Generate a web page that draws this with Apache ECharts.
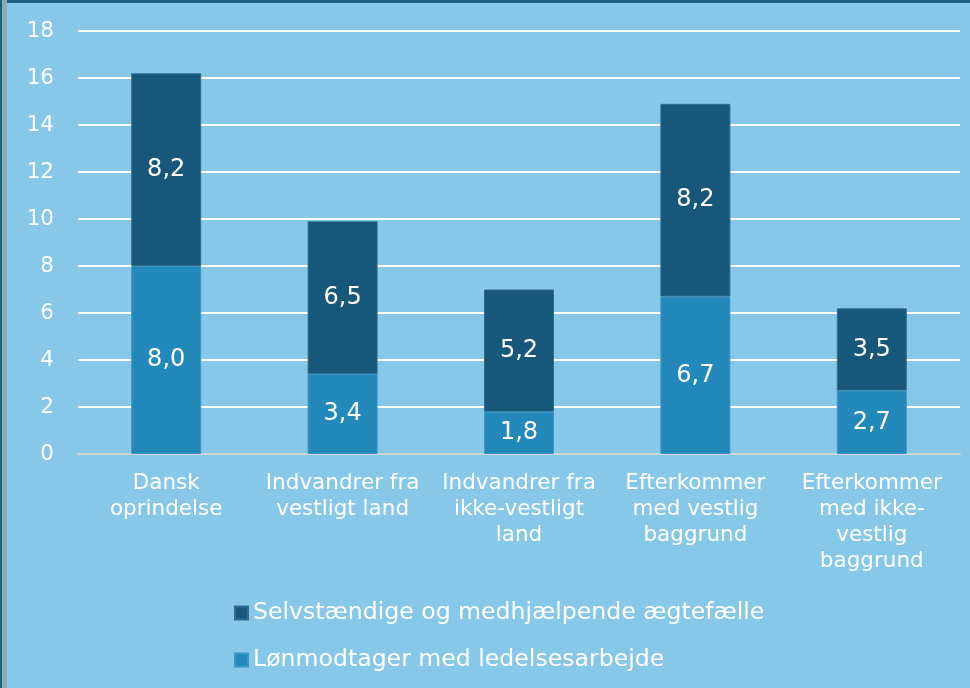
<!DOCTYPE html>
<html>
<head>
<meta charset="utf-8">
<script src="https://cdn.jsdelivr.net/npm/echarts@6/dist/echarts.min.js"></script>
<style>
  html, body { margin: 0; padding: 0; background: #87c8e8; }
  #main { width: 970px; height: 688px; }
</style>
</head>
<body>
<div id="main"></div>
<script>
var categories = [
  'Dansk\noprindelse',
  'Indvandrer fra\nvestligt land',
  'Indvandrer fra\nikke-vestligt\nland',
  'Efterkommer\nmed vestlig\nbaggrund',
  'Efterkommer\nmed ikke-\nvestlig\nbaggrund'
]
var loenmodtager = [8.0, 3.4, 1.8, 6.7, 2.7]
var selvstaendige = [8.2, 6.5, 5.2, 8.2, 3.5]
var yTicks = [0, 2, 4, 6, 8, 10, 12, 14, 16, 18]

var font = 'DejaVu Sans'
var myChart = echarts.init(document.getElementById('main'))
var option

var fmt = function (p) {
  return p.value.toFixed(1).replace('.', ',')
}

option = {
  backgroundColor: '#87c8e8',
  textStyle: { fontFamily: font },
  graphic: [
    { type: 'rect', shape: { x: 0, y: 0, width: 970, height: 3 }, style: { fill: '#1d5f80' } },
    { type: 'rect', shape: { x: 0, y: 0, width: 7, height: 688 }, style: { fill: '#8aaab8' } },
    { type: 'rect', shape: { x: 0, y: 0, width: 2, height: 688 }, style: { fill: '#1d5f80' } }
  ],
  grid: {
    left: 78,
    right: 10,
    top: 31,
    bottom: 234
  },
  legend: {
    orient: 'vertical',
    left: 229,
    top: 596,
    itemWidth: 13,
    itemHeight: 13,
    itemGap: 23,
    icon: 'rect',
    data: ['Selvstændige og medhjælpende ægtefælle', 'Lønmodtager med ledelsesarbejde'],
    textStyle: { color: '#fff', fontSize: 23.6, fontFamily: font }
  },
  xAxis: {
    type: 'category',
    data: categories,
    axisLine: { lineStyle: { color: '#d2d2d2', width: 2 } },
    axisTick: { show: false },
    axisLabel: {
      interval: 0,
      color: '#fff',
      fontSize: 21.5,
      fontFamily: font,
      lineHeight: 26,
      margin: 16
    }
  },
  yAxis: {
    type: 'value',
    min: 0,
    max: yTicks[yTicks.length - 1],
    interval: 2,
    axisLine: { show: false },
    axisTick: { show: false },
    axisLabel: { color: '#fff', fontSize: 21.5, fontFamily: font, margin: 24, padding: [6, 0, 0, 0] },
    splitLine: { lineStyle: { color: '#fff', width: 2 } }
  },
  series: [
    {
      name: 'Lønmodtager med ledelsesarbejde',
      type: 'bar',
      stack: 'total',
      barWidth: 70,
      data: loenmodtager,
      itemStyle: { color: '#2389bb', borderColor: '#3d95c2', borderWidth: 1 },
      label: { show: true, position: 'inside', color: '#fff', fontSize: 24, fontFamily: font, formatter: fmt }
    },
    {
      name: 'Selvstændige og medhjælpende ægtefælle',
      type: 'bar',
      stack: 'total',
      barWidth: 70,
      data: selvstaendige,
      itemStyle: { color: '#17587a', borderColor: '#2e6d8e', borderWidth: 1 },
      label: { show: true, position: 'inside', color: '#fff', fontSize: 24, fontFamily: font, formatter: fmt }
    }
  ]
}

option && myChart.setOption(option)
</script>
</body>
</html>
